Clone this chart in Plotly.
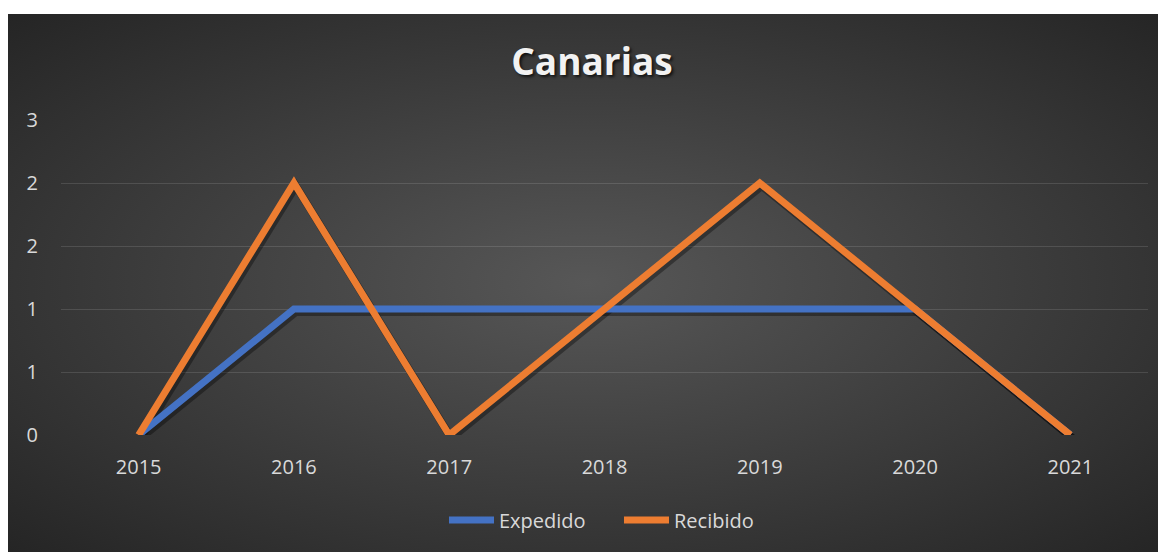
import base64
import plotly.graph_objects as go

# ---- data ----
years = ["2015", "2016", "2017", "2018", "2019", "2020", "2021"]
expedido = [0, 1, 1, 1, 1, 1, 0]
recibido = [0, 2, 0, 1, 2, 1, 0]
y_tickvals = [0, 0.5, 1, 1.5, 2, 2.5]
y_ticktext = ["0", "1", "1", "2", "2", "3"]

BLUE = "#4472C4"
ORANGE = "#ED7D31"
TXT = "#D9D9D9"
FONT = "Open Sans"

# geometry (figure pixels; page has an 8px body margin)
W, H = 1158, 544
L, R, T, B = 53, 18, 112, 117
pw, ph = W - L - R, H - T - B
BG_TOP = 6
PLOT_BOTTOM = H - B

svg = (
    '<svg xmlns="http://www.w3.org/2000/svg" width="1158" height="538" preserveAspectRatio="none">'
    '<defs><radialGradient id="g" cx="0.5" cy="0.5" r="0.72">'
    '<stop offset="0" stop-color="#575757"/><stop offset="1" stop-color="#242424"/>'
    '</radialGradient></defs><rect width="1158" height="538" fill="url(#g)"/></svg>'
)
src = "data:image/svg+xml;base64," + base64.b64encode(svg.encode()).decode()

fig = go.Figure()

# soft shadows under the lines (base axes, offset a few pixels)
for vals in (expedido, recibido):
    fig.add_trace(go.Scatter(x=years, y=vals, mode="lines", xaxis="x", yaxis="y",
                             line=dict(color="rgba(0,0,0,0.35)", width=8),
                             showlegend=False, hoverinfo="skip"))

fig.add_trace(go.Scatter(x=years, y=expedido, mode="lines", name="Expedido",
                         xaxis="x2", yaxis="y2", line=dict(color=BLUE, width=7)))
fig.add_trace(go.Scatter(x=years, y=recibido, mode="lines", name="Recibido",
                         xaxis="x2", yaxis="y2", line=dict(color=ORANGE, width=7)))

dy = 2.5 / ph * 3
dx = 7 / pw * 2

fig.update_layout(
    width=W, height=H,
    margin=dict(l=L, r=R, t=T, b=B),
    paper_bgcolor="white",
    plot_bgcolor="rgba(0,0,0,0)",
    font=dict(family=FONT, color=TXT, size=20),
    title=dict(text="<b>Canarias</b>", x=(584 - L) / pw, xref="paper", xanchor="center",
               y=1 - 54 / H, yanchor="middle",
               font=dict(family=FONT, size=37, color="#F2F2F2",
                         shadow="2px 2px 3px rgba(0,0,0,0.7)")),
    xaxis=dict(type="category", range=[-0.5 - dx, 6.5 - dx], showgrid=False,
               showticklabels=False, zeroline=False, showline=False, fixedrange=True),
    yaxis=dict(range=[0 + dy, 2.5 + dy], showgrid=False, showticklabels=False,
               zeroline=False, showline=False, fixedrange=True),
    xaxis2=dict(type="category", overlaying="x", side="bottom", range=[-0.5, 6.5],
                showgrid=False, zeroline=False, showline=False, ticks="",
                ticklabelstandoff=18, tickfont=dict(size=20, color=TXT)),
    yaxis2=dict(overlaying="y", side="left", range=[0, 2.5], tickvals=y_tickvals,
                ticktext=y_ticktext, showgrid=True, gridcolor="rgba(255,255,255,0.12)",
                gridwidth=1.3, zeroline=False, showline=False, ticks="",
                ticklabelstandoff=22, tickfont=dict(size=20, color=TXT)),
    legend=dict(orientation="h", x=(436 - L) / pw, xanchor="left",
                y=(PLOT_BOTTOM - 512) / ph, yanchor="middle", bgcolor="rgba(0,0,0,0)",
                font=dict(size=20, color=TXT), itemwidth=45,
                entrywidth=115, entrywidthmode="pixels"),
    images=[dict(source=src, xref="paper", yref="paper",
                 x=-L / pw, y=(PLOT_BOTTOM - BG_TOP) / ph,
                 sizex=W / pw, sizey=(H - BG_TOP) / ph,
                 xanchor="left", yanchor="top", sizing="stretch", layer="below")],
    showlegend=True,
)

fig.write_html("out.html")
